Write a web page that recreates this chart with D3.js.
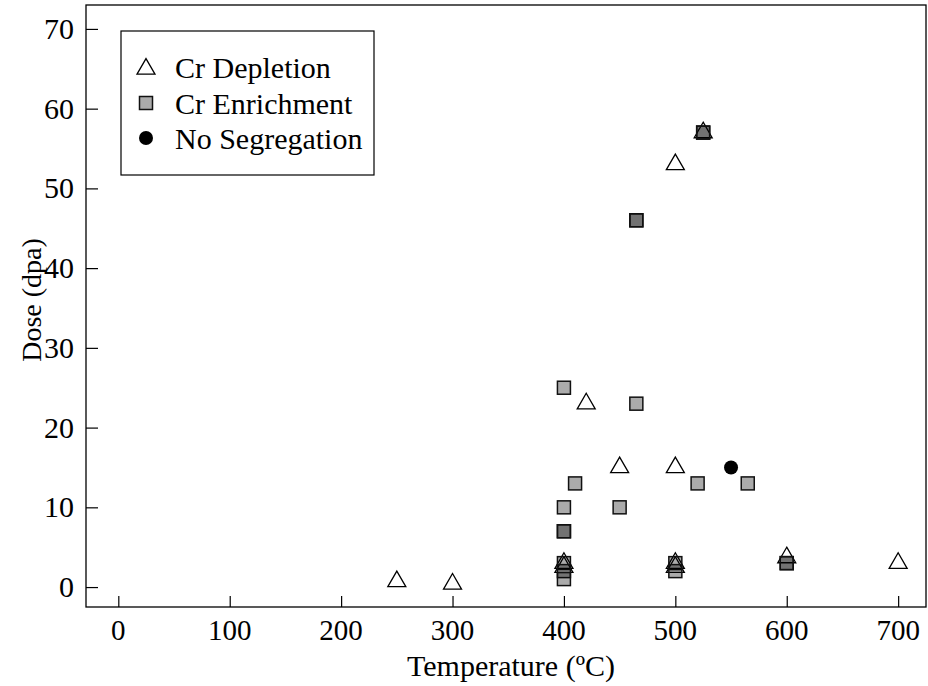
<!DOCTYPE html>
<html>
<head>
<meta charset="utf-8">
<script src="https://cdn.jsdelivr.net/npm/d3@7"></script>
<style>
  html, body { margin: 0; padding: 0; background: #fff; }
  svg { display: block; }
  text { font-family: "Liberation Serif", "DejaVu Serif", serif; fill: #000; }
</style>
</head>
<body>
<div id="chart"></div>
<script>
// Cr Depletion (triangles): temperature (°C), dose (dpa)
const depletionTemp = [250, 300, 400, 400, 420, 450, 500, 500, 500, 500, 525, 600, 700];
const depletionDose = [0.7, 0.4, 3, 2.5, 23, 15, 53, 15, 3, 2.5, 57, 3.7, 3];

// Cr Enrichment (squares) – repeated entries are overlapping measurements
const enrichTemp = [400, 410, 400, 400, 400, 400, 400, 400, 450, 465, 465, 465, 500, 500, 520, 525, 525, 565, 600, 600];
const enrichDose = [25, 13, 10, 7, 7, 3, 2, 1, 10, 23, 46, 46, 3, 2, 13, 57, 57, 13, 3, 3];

// No Segregation (circle)
const noSegTemp = [550];
const noSegDose = [15];

const xTicks = [0, 100, 200, 300, 400, 500, 600, 700];
const yTicks = [0, 10, 20, 30, 40, 50, 60, 70];

const legendLabels = ['Cr Depletion', 'Cr Enrichment', 'No Segregation'];

const width = 928, height = 686;
const box = { left: 86, top: 5, right: 926, bottom: 607 };

const svg = d3.select('#chart').append('svg')
  .attr('width', width)
  .attr('height', height);

const x = d3.scaleLinear().domain([-29, 725]).range([box.left, box.right]);
const y = d3.scaleLinear().domain([-2.5, 73]).range([box.bottom, box.top]);

// Frame
svg.append('rect')
  .attr('x', box.left).attr('y', box.top)
  .attr('width', box.right - box.left).attr('height', box.bottom - box.top)
  .attr('fill', 'none').attr('stroke', '#000').attr('stroke-width', 1.3);

// Axes (inward ticks)
const xAxis = svg.append('g')
  .attr('transform', `translate(0,${box.bottom})`)
  .call(d3.axisTop(x).tickValues(xTicks).tickSize(11).tickFormat(''));
xAxis.select('.domain').remove();
xAxis.selectAll('line').attr('stroke', '#000').attr('stroke-width', 1.2);

svg.append('g').selectAll('text')
  .data(xTicks)
  .join('text')
    .attr('x', d => x(d))
    .attr('y', 640)
    .attr('text-anchor', 'middle')
    .attr('font-size', 29)
    .text(d => d);

const yAxis = svg.append('g')
  .attr('transform', `translate(${box.left},0)`)
  .call(d3.axisRight(y).tickValues(yTicks).tickSize(12).tickFormat(''));
yAxis.select('.domain').remove();
yAxis.selectAll('line').attr('stroke', '#000').attr('stroke-width', 1.2);

svg.append('g').selectAll('text')
  .data(yTicks)
  .join('text')
    .attr('x', 74)
    .attr('y', d => y(d) + 10)
    .attr('text-anchor', 'end')
    .attr('font-size', 30)
    .text(d => d);

// Axis titles
svg.append('text')
  .attr('x', 511).attr('y', 676)
  .attr('text-anchor', 'middle')
  .attr('font-size', 30)
  .text('Temperature (ºC)');

svg.append('text')
  .attr('transform', 'translate(41,300) rotate(-90)')
  .attr('text-anchor', 'middle')
  .attr('font-size', 28)
  .text('Dose (dpa)');

// Symbols
const triPath = d3.symbol().type(d3.symbolTriangle).size(140)();
const sq = 13;

const marks = svg.append('g');

marks.append('g').selectAll('path')
  .data(d3.range(depletionTemp.length))
  .join('path')
    .attr('d', triPath)
    .attr('transform', i => `translate(${x(depletionTemp[i])},${y(depletionDose[i])})`)
    .attr('fill', 'none')
    .attr('stroke', '#000')
    .attr('stroke-width', 1.3);

marks.append('g').selectAll('rect')
  .data(d3.range(enrichTemp.length))
  .join('rect')
    .attr('x', i => x(enrichTemp[i]) - sq / 2)
    .attr('y', i => y(enrichDose[i]) - sq / 2)
    .attr('width', sq).attr('height', sq)
    .attr('fill', '#000')
    .attr('fill-opacity', 0.33)
    .attr('stroke', '#111')
    .attr('stroke-width', 1.5);

marks.append('g').selectAll('circle')
  .data(d3.range(noSegTemp.length))
  .join('circle')
    .attr('cx', i => x(noSegTemp[i]))
    .attr('cy', i => y(noSegDose[i]))
    .attr('r', 7)
    .attr('fill', '#000');

// Legend
const legend = svg.append('g');
legend.append('rect')
  .attr('x', 121).attr('y', 31)
  .attr('width', 253).attr('height', 144)
  .attr('fill', '#fff').attr('stroke', '#000').attr('stroke-width', 1.2);

const rowY = [67, 103, 138];
legend.append('path')
  .attr('d', triPath)
  .attr('transform', `translate(146,${rowY[0] + 2})`)
  .attr('fill', 'none').attr('stroke', '#000').attr('stroke-width', 1.3);
legend.append('rect')
  .attr('x', 146 - sq / 2).attr('y', rowY[1] - sq / 2)
  .attr('width', sq).attr('height', sq)
  .attr('fill', '#000').attr('fill-opacity', 0.33)
  .attr('stroke', '#111').attr('stroke-width', 1.5);
legend.append('circle')
  .attr('cx', 146).attr('cy', rowY[2]).attr('r', 7).attr('fill', '#000');

legend.selectAll('text.lab')
  .data(legendLabels)
  .join('text')
    .attr('class', 'lab')
    .attr('x', 175)
    .attr('y', (d, i) => rowY[i] + 11)
    .attr('font-size', 30)
    .text(d => d);
</script>
</body>
</html>
